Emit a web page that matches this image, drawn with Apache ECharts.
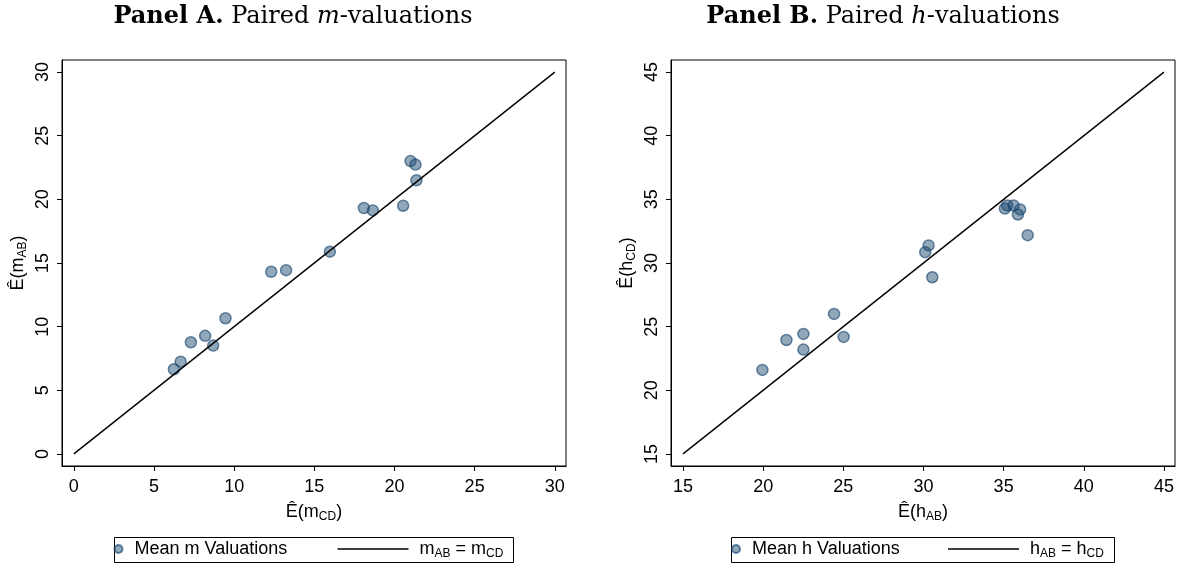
<!DOCTYPE html>
<html>
<head>
<meta charset="utf-8">
<script src="https://cdn.jsdelivr.net/npm/echarts@6/dist/echarts.min.js"></script>
<style>
html,body{margin:0;padding:0;background:#fff;}
#c{width:1178px;height:565px;}
</style>
</head>
<body>
<div id="c"></div>
<script>
// Panel A data: mean m valuations
const mCD = [6.24, 6.66, 7.30, 8.19, 8.69, 9.46, 12.31, 13.24, 15.97, 18.09, 18.65, 20.54, 21.00, 21.31, 21.37];
const mAB = [6.65, 7.25, 8.77, 9.28, 8.51, 10.66, 14.31, 14.44, 15.89, 19.32, 19.13, 19.50, 23.01, 22.73, 21.50];
// Panel B data: mean h valuations
const hAB = [19.95, 21.45, 22.51, 22.51, 24.42, 25.02, 30.11, 30.32, 30.55, 35.08, 35.23, 35.62, 36.03, 35.89, 36.50];
const hCD = [21.60, 23.95, 24.43, 23.20, 26.00, 24.19, 30.85, 31.38, 28.88, 34.28, 34.52, 34.52, 34.21, 33.81, 32.19];
// 45-degree line endpoints
const lineA = [0, 30];
const lineB = [15, 45];
// tick labels
const ticksA = [0, 5, 10, 15, 20, 25, 30];
const ticksB = [15, 20, 25, 30, 35, 40, 45];

const SANS = 'Liberation Sans';
const SERIF = 'DejaVu Serif';
const dotFill = 'rgba(26,71,111,0.6)';

const subRich = {
  n: {fontFamily: SANS, fontSize: 18, color: '#000', lineHeight: 22, verticalAlign: 'middle'},
  s: {fontFamily: SANS, fontSize: 12, color: '#000', lineHeight: 12, padding: [10, 0, 0, 0], verticalAlign: 'bottom'}
};

const titleRich = {
  b: {fontFamily: SERIF, fontSize: 24, fontWeight: 'bold', color: '#000'},
  r: {fontFamily: SERIF, fontSize: 24, fontWeight: 'normal', color: '#000'},
  i: {fontFamily: SERIF, fontSize: 24, fontStyle: 'italic', color: '#000'}
};

function valueAxis(gridIndex, min, max, ticks, name, isY) {
  const ax = {
    type: 'value', gridIndex: gridIndex, min: min, max: max,
    name: name, nameLocation: 'middle',
    nameTextStyle: {rich: subRich, fontFamily: SANS, fontSize: 18, color: '#000'},
    axisLine: {show: true, onZero: false, lineStyle: {color: '#000', width: 1}},
    axisTick: {show: true, inside: false, length: 5, customValues: ticks, lineStyle: {color: '#000', width: 1}},
    axisLabel: {show: true, customValues: ticks, fontFamily: SANS, fontSize: 18, color: '#000'},
    splitLine: {show: false}
  };
  if (isY) {
    ax.nameRotate = 90;
    ax.nameGap = 33;
    ax.axisLabel.rotate = 90;
    ax.axisLabel.margin = 10;
  } else {
    ax.nameGap = 26;
    ax.axisLabel.margin = 12;
  }
  return ax;
}

function zip(xs, ys) { return xs.map((x, i) => [x, ys[i]]); }
function diag(ends) { return ends.map(v => [v, v]); }

const legendText = {
  'Mean m Valuations': '{n|Mean m Valuations}{s|}',
  'Mean h Valuations': '{n|Mean h Valuations}{s|}',
  'mline': '{p|}{n|m}{s|AB}{n| = m}{s|CD}',
  'hline': '{p|}{n|h}{s|AB}{n| = h}{s|CD}'
};
const legRich = {
  n: {fontFamily: SANS, fontSize: 18, color: '#000', lineHeight: 22, verticalAlign: 'middle'},
  s: {fontFamily: SANS, fontSize: 12, color: '#000', lineHeight: 12, padding: [10, 0, 0, 0], verticalAlign: 'bottom'},
  p: {fontFamily: SANS, fontSize: 18, color: '#000', lineHeight: 22, padding: [0, 0, 0, 6]}
};
function legendFmt(name) { return legendText[name]; }

const scatterStyle = {color: dotFill, borderColor: 'rgba(26,71,111,0.8)', borderWidth: 1.5};

const option = {
  animation: false,
  backgroundColor: '#fff',
  title: [
    {text: '{b|Panel A.}{r| Paired }{i|m}{r|-valuations}', left: 288, top: 0, textAlign: 'center',
     textStyle: {rich: titleRich, fontFamily: SERIF, fontSize: 24, fontWeight: 'normal', color: '#000'}},
    {text: '{b|Panel B.}{r| Paired }{i|h}{r|-valuations}', left: 878, top: 0, textAlign: 'center',
     textStyle: {rich: titleRich, fontFamily: SERIF, fontSize: 24, fontWeight: 'normal', color: '#000'}}
  ],
  grid: [
    {left: 62, top: 60, width: 504, height: 406, show: true, borderColor: '#000', borderWidth: 1, backgroundColor: '#fff'},
    {left: 671, top: 60, width: 504, height: 406, show: true, borderColor: '#000', borderWidth: 1, backgroundColor: '#fff'}
  ],
  xAxis: [
    valueAxis(0, -0.74, 30.7, ticksA, '{n|Ê(m}{s|CD}{n|)}', false),
    valueAxis(1, 14.25, 45.69, ticksB, '{n|Ê(h}{s|AB}{n|)}', false)
  ],
  yAxis: [
    valueAxis(0, -0.95, 30.95, ticksA, '{n|Ê(m}{s|AB}{n|)}', true),
    valueAxis(1, 14.05, 45.95, ticksB, '{n|Ê(h}{s|CD}{n|)}', true)
  ],
  legend: [
    {data: [{name: 'Mean m Valuations', icon: 'circle'}], left: 113.5, top: 538, padding: 0,
     itemWidth: 22, itemHeight: 8, selectedMode: false, formatter: legendFmt, textStyle: {rich: legRich}},
    {data: [{name: 'mline', icon: 'rect', itemStyle: {color: '#000', borderWidth: 0}}], left: 337.5, top: 538, padding: 0,
     itemWidth: 71, itemHeight: 1.3, symbolKeepAspect: false, selectedMode: false, formatter: legendFmt, textStyle: {rich: legRich}},
    {data: [{name: 'Mean h Valuations', icon: 'circle'}], left: 731, top: 538, padding: 0,
     itemWidth: 22, itemHeight: 8, selectedMode: false, formatter: legendFmt, textStyle: {rich: legRich}},
    {data: [{name: 'hline', icon: 'rect', itemStyle: {color: '#000', borderWidth: 0}}], left: 948, top: 538, padding: 0,
     itemWidth: 71, itemHeight: 1.3, symbolKeepAspect: false, selectedMode: false, formatter: legendFmt, textStyle: {rich: legRich}}
  ],
  graphic: [
    {type: 'rect', shape: {x: 114.5, y: 537.5, width: 399, height: 25}, style: {fill: 'none', stroke: '#000', lineWidth: 1}, silent: true},
    {type: 'rect', shape: {x: 731.5, y: 537.5, width: 383, height: 25}, style: {fill: 'none', stroke: '#000', lineWidth: 1}, silent: true}
  ],
  series: [
    {name: 'Mean m Valuations', type: 'scatter', xAxisIndex: 0, yAxisIndex: 0, symbol: 'circle', symbolSize: 11,
     itemStyle: scatterStyle, data: zip(mCD, mAB), silent: true},
    {name: 'mline', type: 'line', xAxisIndex: 0, yAxisIndex: 0, symbol: 'none', showSymbol: false,
     lineStyle: {color: '#000', width: 1.4}, itemStyle: {color: '#000'}, data: diag(lineA), silent: true},
    {name: 'Mean h Valuations', type: 'scatter', xAxisIndex: 1, yAxisIndex: 1, symbol: 'circle', symbolSize: 11,
     itemStyle: scatterStyle, data: zip(hAB, hCD), silent: true},
    {name: 'hline', type: 'line', xAxisIndex: 1, yAxisIndex: 1, symbol: 'none', showSymbol: false,
     lineStyle: {color: '#000', width: 1.4}, itemStyle: {color: '#000'}, data: diag(lineB), silent: true}
  ]
};

const chart = echarts.init(document.getElementById('c'), null, {renderer: 'canvas'});
chart.setOption(option);
</script>
</body>
</html>
